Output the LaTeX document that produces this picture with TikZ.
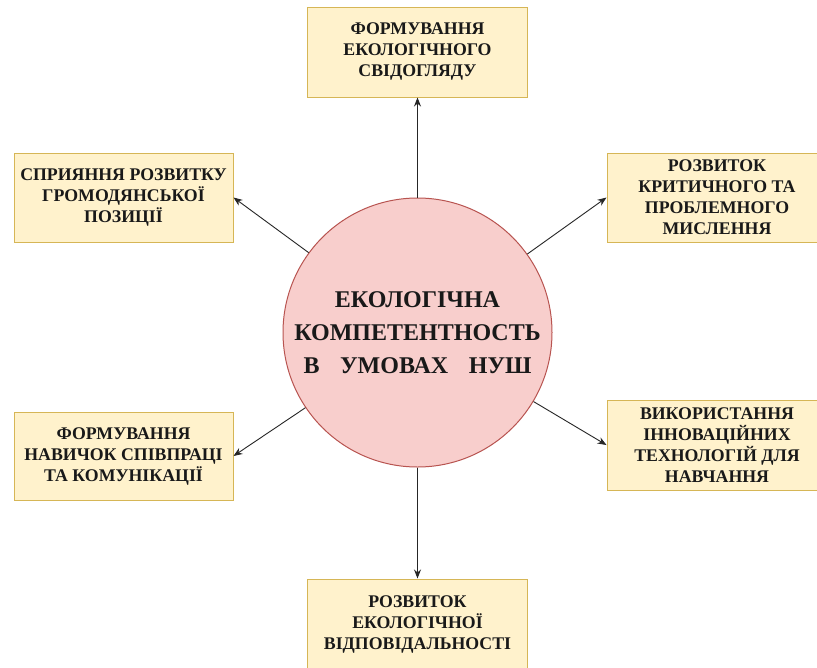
\documentclass[tikz,border=0pt]{standalone}
\usepackage{fontspec}
\setmainfont{Liberation Serif}
\usetikzlibrary{arrows.meta}
\definecolor{boxfill}{HTML}{FFF2CC}
\definecolor{boxline}{HTML}{D6B656}
\definecolor{circfill}{HTML}{F8CECC}
\definecolor{circline}{HTML}{B85450}
\tikzset{
  infobox/.style={draw=boxline, fill=boxfill, line width=1pt, minimum width=220pt, minimum height=90pt,
    align=center, inner sep=0pt, font=\bfseries\fontsize{17.8}{21}\selectfont, text=black!90},
  hub/.style={circle, draw=circline, fill=circfill, line width=1pt, minimum size=269pt, inner sep=0pt,
    align=center, font=\bfseries\fontsize{24}{33}\selectfont, text=black!90},
  link/.style={draw=black!85, line width=0.9pt, -{Stealth[length=9pt,width=7pt]}}
}
\begin{document}
\begin{tikzpicture}[x=1pt,y=-1pt]
\useasboundingbox (0,0) rectangle (817,667);
\clip (0,0) rectangle (817,667);
\fill[white] (0,0) rectangle (817,667);
\node[infobox] (top) at (417.5,52) {ФОРМУВАННЯ\\ЕКОЛОГІЧНОГО\\СВІДОГЛЯДУ};
\node[infobox, minimum width=219pt, minimum height=89pt] (lt) at (123.5,197.5) {СПРИЯННЯ РОЗВИТКУ\\ГРОМОДЯНСЬКОЇ\\ПОЗИЦІЇ};
\node[infobox, minimum height=89pt] (rt) at (717,197.5) {РОЗВИТОК\\КРИТИЧНОГО ТА\\ПРОБЛЕМНОГО\\МИСЛЕННЯ};
\node[infobox, minimum width=219pt, minimum height=88pt] (lb) at (123.5,456) {ФОРМУВАННЯ\\НАВИЧОК СПІВПРАЦІ\\ТА КОМУНІКАЦІЇ};
\node[infobox] (rb) at (717,445) {ВИКОРИСТАННЯ\\ІННОВАЦІЙНИХ\\ТЕХНОЛОГІЙ ДЛЯ\\НАВЧАННЯ};
\node[infobox] (bot) at (417.5,624) {РОЗВИТОК\\ЕКОЛОГІЧНОЇ\\ВІДПОВІДАЛЬНОСТІ};
\node[hub] (hub) at (417.5,332.5) {ЕКОЛОГІЧНА\\КОМПЕТЕНТНОСТЬ\\\hbox to 228pt{В\hfill УМОВАХ\hfill НУШ}};
\draw[link] (hub) -- (top.south);
\draw[link] (hub) -- (bot.north);
\draw[link] (hub) -- (lt.east);
\draw[link] (hub) -- (rt.west);
\draw[link] (hub) -- (lb.east);
\draw[link] (hub) -- (rb.west);
\end{tikzpicture}
\end{document}
